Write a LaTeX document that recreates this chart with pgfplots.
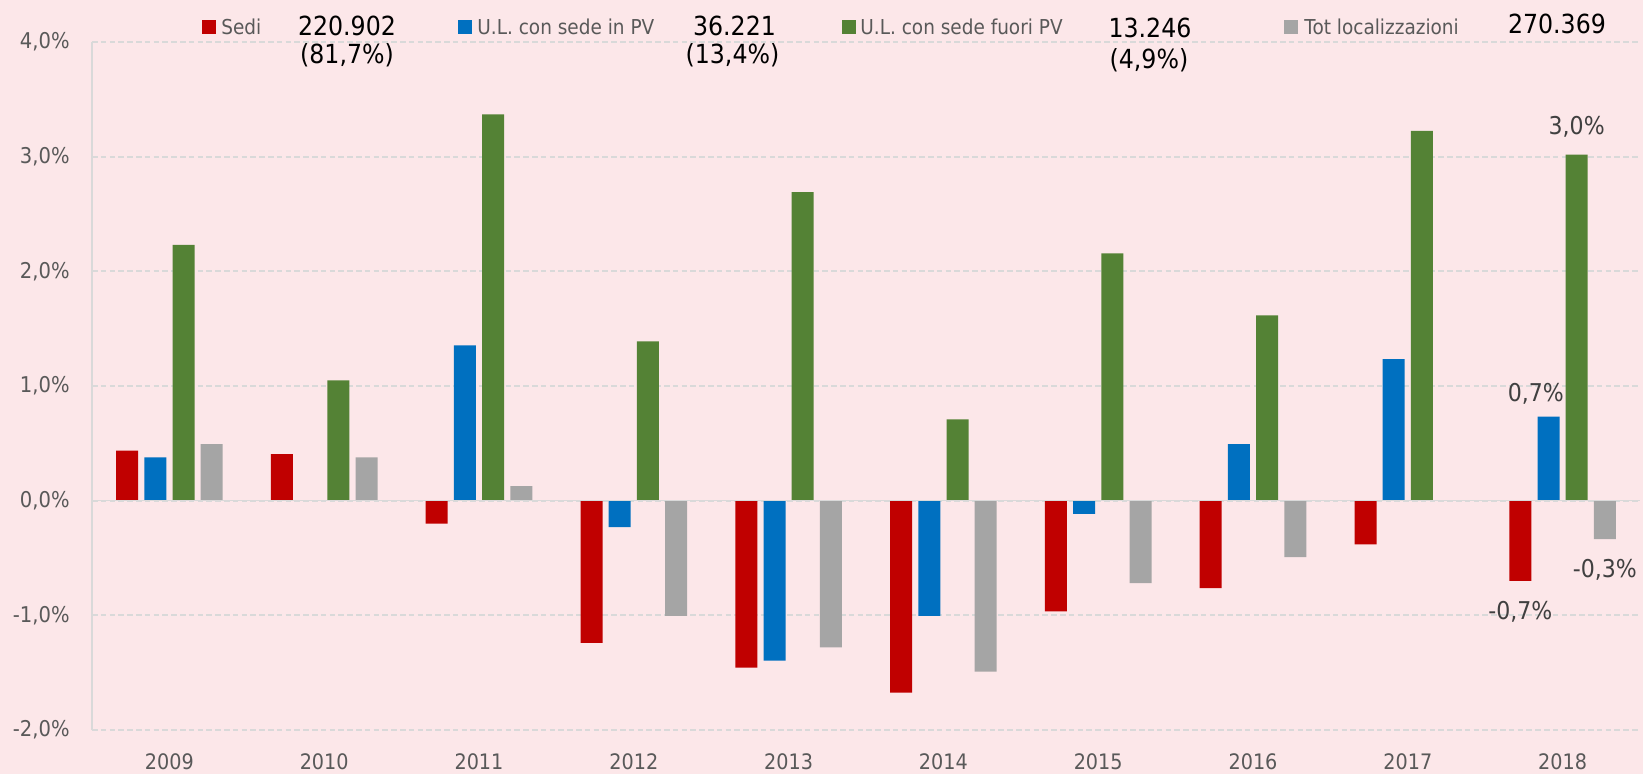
\documentclass[border=0pt]{standalone}
\usepackage{pgfplots}
\pgfplotsset{compat=1.18}
\usepackage{fontspec}
\setmainfont{DejaVu Sans}[FakeStretch=0.9]
\definecolor{bgpink}{HTML}{FCE7E9}
\definecolor{cRed}{HTML}{C00000}
\definecolor{cBlue}{HTML}{0070C0}
\definecolor{cGreen}{HTML}{548235}
\definecolor{cGray}{HTML}{A5A5A5}
\definecolor{gridc}{HTML}{D9D9D9}
\definecolor{tickc}{HTML}{595959}
\definecolor{labc}{HTML}{404040}
\newcommand\legfont{\fontsize{10.3}{12}\selectfont}
\newcommand\numfont{\fontsize{13.2}{15}\selectfont}
\newcommand\tickfont{\fontsize{10.9}{12}\selectfont}
\newcommand\yearfont{\fontsize{10.7}{12}\selectfont}
\newcommand\datfont{\fontsize{12.3}{14}\selectfont}
\begin{document}
\begin{tikzpicture}
\fill[bgpink, use as bounding box] (0,0) rectangle (821.5bp,-387bp);
\begin{axis}[
  at={(46bp,-365bp)}, anchor=south west,
  scale only axis, width=774bp, height=344bp,
  xmin=-0.5, xmax=9.5, ymin=-2, ymax=4,
  axis line style={draw=none},
  major tick length=0pt,
  xtick={0,...,9},
  xticklabels={2009,2010,2011,2012,2013,2014,2015,2016,2017,2018},
  ytick={-2,-1,0,1,2,3,4},
  yticklabels={{-2,0\%},{-1,0\%},{0,0\%},{1,0\%},{2,0\%},{3,0\%},{4,0\%}},
  xticklabel style={font=\yearfont, text=tickc, anchor=base, inner sep=0pt, yshift=-19.5bp},
  yticklabel style={font=\tickfont, text=tickc, anchor=east, inner sep=0pt, xshift=-11bp},
  ymajorgrids,
  grid style={gridc, line width=0.9bp, dash pattern=on 2.8bp off 1.6bp},
  ybar, bar width=11bp,
  clip=false,
  point meta=explicit symbolic,
  nodes near coords,
  nodes near coords style={font=\datfont, text=labc, anchor=center, inner sep=0pt},
]
\addplot[ybar, bar shift=-21.15bp, fill=cRed, draw=none,
  nodes near coords style={yshift=-15.5bp}] coordinates {
  (0,0.436)[] (1,0.407)[] (2,-0.20)[] (3,-1.24)[] (4,-1.457)[]
  (5,-1.675)[] (6,-0.966)[] (7,-0.763)[] (8,-0.38)[] (9,-0.70)[-0,7\%]};
\addplot[ybar, bar shift=-7.05bp, fill=cBlue, draw=none,
  nodes near coords style={xshift=-6.35bp, yshift=11.35bp}] coordinates {
  (0,0.378)[] (2,1.355)[] (3,-0.23)[] (4,-1.394)[]
  (5,-1.005)[] (6,-0.115)[] (7,0.494)[] (8,1.235)[] (9,0.732)[0,7\%]};
\addplot[ybar, bar shift=7.05bp, fill=cGreen, draw=none,
  nodes near coords style={yshift=13.8bp}] coordinates {
  (0,2.23)[] (1,1.05)[] (2,3.37)[] (3,1.39)[] (4,2.69)[]
  (5,0.71)[] (6,2.157)[] (7,1.616)[] (8,3.226)[] (9,3.017)[3,0\%]};
\addplot[ybar, bar shift=21.15bp, fill=cGray, draw=none,
  nodes near coords style={yshift=-15.5bp}] coordinates {
  (0,0.494)[] (1,0.378)[] (2,0.128)[] (3,-1.004)[] (4,-1.28)[]
  (5,-1.49)[] (6,-0.72)[] (7,-0.493)[] (9,-0.335)[-0,3\%]};
\draw[gridc, line width=0.8bp] (axis cs:-0.5,0) -- (axis cs:9.5,0);
\draw[gridc, line width=0.8bp] (rel axis cs:0,0) -- (rel axis cs:0,1);
\end{axis}
\begin{scope}[x=0.5bp, y=-0.5bp]
\fill[cRed] (202,20) rectangle (216,34);
\node[anchor=base west, inner sep=0pt, font=\legfont, text=tickc] at (221,34) {Sedi};
\node[anchor=base, inner sep=0pt, font=\numfont] at (347,35) {220.902};
\node[anchor=base, inner sep=0pt, font=\numfont] at (347,63.5) {(81,7\%)};
\fill[cBlue] (458,20) rectangle (472,34);
\node[anchor=base west, inner sep=0pt, font=\legfont, text=tickc] at (477,34) {U.L. con sede in PV};
\node[anchor=base, inner sep=0pt, font=\numfont] at (734.5,35) {36.221};
\node[anchor=base, inner sep=0pt, font=\numfont] at (732.5,63.5) {(13,4\%)};
\fill[cGreen] (842,20) rectangle (856,34);
\node[anchor=base west, inner sep=0pt, font=\legfont, text=tickc] at (860,34) {U.L. con sede fuori PV};
\node[anchor=base, inner sep=0pt, font=\numfont] at (1150,37.5) {13.246};
\node[anchor=base, inner sep=0pt, font=\numfont] at (1149,68) {(4,9\%)};
\fill[cGray] (1284,20) rectangle (1298,34);
\node[anchor=base west, inner sep=0pt, font=\legfont, text=tickc] at (1304,34) {Tot localizzazioni};
\node[anchor=base, inner sep=0pt, font=\numfont] at (1557,33.5) {270.369};
\end{scope}
\end{tikzpicture}
\end{document}
